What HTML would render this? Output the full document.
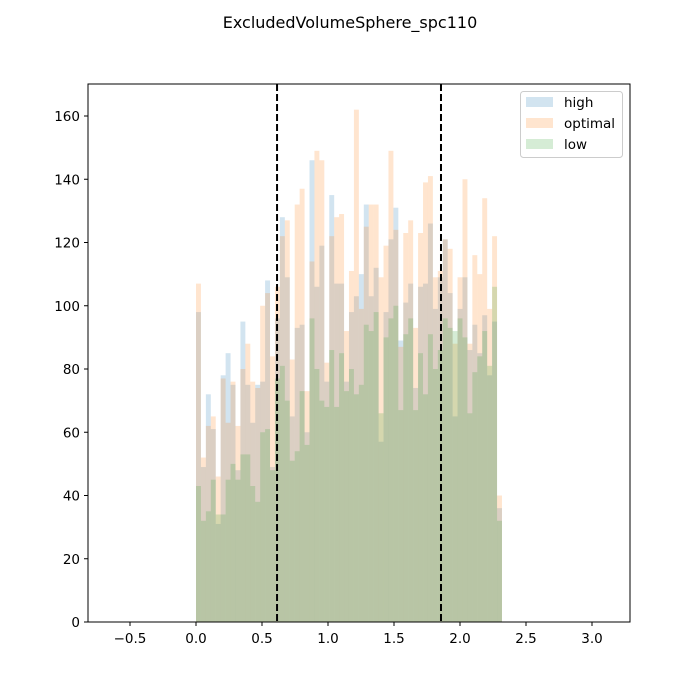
<!DOCTYPE html>
<html><head><meta charset="utf-8"><style>
html,body{margin:0;padding:0;background:#fff;}
svg{display:block;font-family:"DejaVu Sans","Liberation Sans",sans-serif;}
</style></head>
<body>
<svg id="chart" width="700" height="700" viewBox="0 0 700 700">
<text x="350" y="28" text-anchor="middle" font-size="16">ExcludedVolumeSphere_spc110</text>
<g id="bars"></g>
<g id="vlines"></g>
<rect x="88" y="84" width="542" height="538" fill="none" stroke="#000" stroke-width="1"/>
<g id="xticks"></g>
<g id="yticks"></g>
<g>
<rect x="520.5" y="91.5" width="102" height="66" rx="3" fill="#fff" fill-opacity="0.8" stroke="#ccc"/>
<rect x="526" y="97" width="27" height="10" fill="#1f77b4" fill-opacity="0.2"/>
<text x="564" y="107" font-size="13.5">high</text>
<rect x="526" y="118" width="27" height="10" fill="#ff7f0e" fill-opacity="0.2"/>
<text x="564" y="128" font-size="13.5">optimal</text>
<rect x="526" y="139" width="27" height="10" fill="#2ca02c" fill-opacity="0.2"/>
<text x="564" y="149" font-size="13.5">low</text>
</g>
</svg>
<script>
const highCounts = [98,49,72,61,31,78,85,75,48,95,75,63,75,76,108,49,96,128,109,65,93,94,60,146,106,119,76,135,107,107,76,98,103,110,132,103,112,57,98,121,131,89,101,107,74,106,107,126,99,109,121,104,65,99,109,86,94,85,97,78,95,36];
const optimalCounts = [107,52,62,65,46,77,63,76,62,80,88,76,74,100,104,84,106,122,127,83,132,137,73,114,149,146,82,122,128,129,92,111,162,99,125,132,132,109,119,149,124,87,123,127,93,123,139,141,109,111,121,118,88,109,140,88,116,110,134,99,122,40];
const lowCounts = [43,32,35,45,34,34,45,50,45,53,53,43,38,60,61,48,77,81,70,51,54,73,56,96,80,70,68,86,68,85,73,80,72,75,94,92,98,66,90,96,100,67,91,96,67,85,72,91,80,86,96,93,92,96,90,66,79,84,92,81,106,32];
const binStart = 0;
const binWidth = 2.318 / 62;
const thresholds = [0.614, 1.856];
const xTickLabels = ["\u22120.5","0.0","0.5","1.0","1.5","2.0","2.5","3.0"];
const xTickValues = [-0.5,0,0.5,1,1.5,2,2.5,3];
const yTickValues = [0,20,40,60,80,100,120,140,160];

const NS = "http://www.w3.org/2000/svg";
const xScale = v => 196 + v * 132;
const yScale = v => 622 - v * (506 / 160);
function mk(tag, attrs, parent) {
  const el = document.createElementNS(NS, tag);
  for (const k in attrs) el.setAttribute(k, attrs[k]);
  parent.appendChild(el);
  return el;
}
const bars = document.getElementById('bars');
const series = [["high", highCounts, "#1f77b4"], ["optimal", optimalCounts, "#ff7f0e"], ["low", lowCounts, "#2ca02c"]];
series.forEach(([name, vals, col]) => {
  vals.forEach((v, i) => {
    const x0 = xScale(binStart + i * binWidth), x1 = xScale(binStart + (i + 1) * binWidth);
    const r = mk('rect', {x: x0, y: yScale(v), width: x1 - x0, height: yScale(0) - yScale(v), fill: col, 'fill-opacity': 0.2}, bars);
    
    
  });
});
const vl = document.getElementById('vlines');
thresholds.forEach((t, i) => {
  const l = mk('line', {x1: xScale(t), x2: xScale(t), y1: 84, y2: 622, stroke: '#000', 'stroke-width': 2, 'stroke-dasharray': '7,3'}, vl);
  
  
});
const xt = document.getElementById('xticks');
xTickValues.forEach((v, i) => {
  const x = xScale(v);
  const t = mk('line', {x1: x, x2: x, y1: 622, y2: 626, stroke: '#000'}, xt);
  
  
  const tx = mk('text', {x: x, y: 643, 'text-anchor': 'middle', 'font-size': 13.5}, xt);
  tx.textContent = xTickLabels[i];
  
  
});
const yt = document.getElementById('yticks');
yTickValues.forEach(v => {
  const y = yScale(v);
  const t = mk('line', {x1: 84, x2: 88, y1: y, y2: y, stroke: '#000'}, yt);
  
  
  const tx = mk('text', {x: 80, y: y + 5, 'text-anchor': 'end', 'font-size': 13.5}, yt);
  tx.textContent = v;
  
  
});
</script>
</body></html>
